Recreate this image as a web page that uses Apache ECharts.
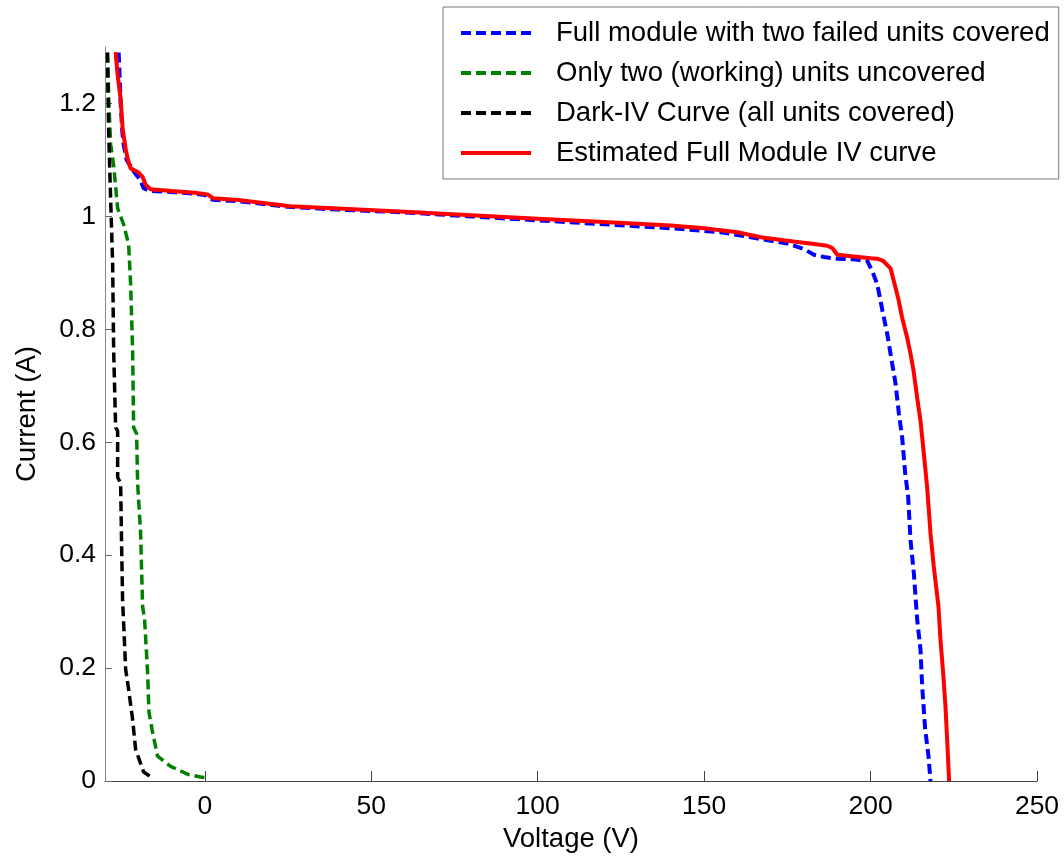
<!DOCTYPE html>
<html>
<head>
<meta charset="utf-8">
<script src="https://cdn.jsdelivr.net/npm/echarts@6/dist/echarts.min.js"></script>
<style>
html,body{margin:0;padding:0;background:#fff;}
#c{width:1064px;height:858px;}
</style>
</head>
<body>
<div id="c"></div>
<script>
// Series names
var seriesNames = [
  'Full module with two failed units covered',
  'Only two (working) units uncovered',
  'Dark-IV Curve (all units covered)',
  'Estimated Full Module IV curve'
];
// Full module with two failed units covered (blue dashed)
var fullV = [-25.9, -25.6, -25.3, -24.8, -24.4, -23.5, -21.4, -19.5, -18.4, -16.5, -10, -3, 0, 1.5, 3, 10, 25, 40, 60, 80, 100, 120, 140, 155, 165, 175, 180, 183, 186, 190, 195, 199, 200.5, 202, 203.6, 205, 206.5, 207.5, 208.5, 209.5, 210.4, 211.3, 212, 213, 214, 215, 215.5, 216.4, 217.4, 218];
var fullI = [1.29, 1.25, 1.2, 1.15, 1.127, 1.1, 1.08, 1.065, 1.05, 1.045, 1.043, 1.04, 1.038, 1.031, 1.029, 1.027, 1.017, 1.012, 1.007, 1.0, 0.993, 0.986, 0.979, 0.972, 0.962, 0.952, 0.942, 0.932, 0.928, 0.925, 0.924, 0.921, 0.903, 0.88, 0.832, 0.792, 0.739, 0.704, 0.651, 0.608, 0.545, 0.503, 0.427, 0.368, 0.286, 0.233, 0.168, 0.092, 0.044, 0.0];
// Only two (working) units uncovered (green dashed)
var twoV = [-29.2, -28.9, -28.3, -27.4, -26.2, -24.4, -22.9, -22.3, -21.7, -21.4, -20.5, -20.2, -19.3, -18.7, -18.1, -17.2, -16.8, -15.7, -14.2, -10.3, -5.2, -1.3, 0];
var twoI = [1.29, 1.21, 1.127, 1.09, 1.014, 0.986, 0.95, 0.88, 0.762, 0.626, 0.615, 0.527, 0.439, 0.309, 0.286, 0.192, 0.122, 0.086, 0.044, 0.026, 0.012, 0.007, 0.006];
// Dark-IV curve (black dashed)
var darkV = [-29.3, -28.9, -28.3, -27.7, -27.4, -26.8, -26.2, -26.2, -25.3, -25, -24.7, -24.4, -23.8, -22.9, -21.7, -20.8, -18.4, -15.4];
var darkI = [1.29, 1.15, 1.03, 0.915, 0.762, 0.626, 0.62, 0.538, 0.527, 0.414, 0.316, 0.28, 0.198, 0.162, 0.109, 0.056, 0.016, 0.004];
// Estimated full module IV curve (red solid)
var estV = [-26.8, -26.2, -25.3, -24.7, -23.8, -23.2, -22.3, -20, -18.7, -17.8, -16.3, -10, -3, 0.8, 2.6, 10, 25.7, 40, 60, 80, 100, 120, 140, 150, 160, 167, 175, 183, 187, 188.5, 190, 195, 200, 202, 203.8, 206, 207, 208.3, 209.5, 211, 212, 212.9, 214, 215, 216, 217, 218, 219, 220.4, 221, 221.8, 222.5, 223, 223.6];
var estI = [1.291, 1.25, 1.208, 1.155, 1.12, 1.102, 1.085, 1.078, 1.07, 1.056, 1.048, 1.045, 1.042, 1.039, 1.032, 1.029, 1.018, 1.014, 1.008, 1.002, 0.996, 0.99, 0.984, 0.979, 0.972, 0.963, 0.957, 0.951, 0.948, 0.944, 0.932, 0.929, 0.926, 0.925, 0.921, 0.908, 0.885, 0.855, 0.82, 0.785, 0.757, 0.727, 0.679, 0.638, 0.58, 0.52, 0.439, 0.379, 0.309, 0.25, 0.192, 0.132, 0.074, 0.0];
// Tick values
var xTicks = [0, 50, 100, 150, 200, 250];
var yTicks = [0, 0.2, 0.4, 0.6, 0.8, 1, 1.2];

function zip(a, b) { return a.map(function (v, i) { return [v, b[i]]; }); }

var FONT = '"Liberation Sans", Arial, Helvetica, sans-serif';
var chart = echarts.init(document.getElementById('c'), null, {renderer: 'canvas'});

function mk(name, v, i, color, dashed, width) {
  return {
    name: name, type: 'line', data: zip(v, i), symbol: 'none', showSymbol: false,
    animation: false, smooth: false,
    lineStyle: {color: color, width: width, type: dashed ? [10, 5] : 'solid'},
    itemStyle: {color: color}
  };
}

chart.setOption({
  backgroundColor: '#fff',
  animation: false,
  grid: {left: 105, right: 27, top: 47, bottom: 76, containLabel: false},
  legend: {
    orient: 'vertical', left: 443, top: 7,
    padding: [12, 9, 12, 16],
    itemGap: 12, itemWidth: 70, itemHeight: 14,
    backgroundColor: '#fff', borderColor: '#777', borderWidth: 1,
    itemStyle: {opacity: 0},
    lineStyle: {width: 4},
    textStyle: {fontFamily: FONT, fontSize: 27.5, color: '#000', lineHeight: 28, padding: [0, 0, 0, 20]},
    data: seriesNames
  },
  xAxis: {
    type: 'value', min: -30, max: 250,
    name: 'Voltage (V)', nameLocation: 'middle', nameGap: 44,
    nameTextStyle: {fontFamily: FONT, fontSize: 27.5, color: '#000'},
    axisLine: {show: true, onZero: false, lineStyle: {color: '#444', width: 1}},
    axisTick: {show: true, inside: true, length: 10, lineStyle: {color: '#444'}, customValues: xTicks},
    axisLabel: {fontFamily: FONT, fontSize: 26.5, color: '#000', margin: 12, customValues: xTicks},
    splitLine: {show: false}
  },
  yAxis: {
    type: 'value', min: 0, max: 1.3,
    name: 'Current (A)', nameLocation: 'middle', nameGap: 64, nameRotate: 90,
    nameTextStyle: {fontFamily: FONT, fontSize: 27.5, color: '#000'},
    axisLine: {show: true, onZero: false, lineStyle: {color: '#888', width: 1}},
    axisTick: {show: true, inside: true, length: 7, lineStyle: {color: '#666'}, customValues: yTicks},
    axisLabel: {fontFamily: FONT, fontSize: 26.5, color: '#000', margin: 9, customValues: yTicks},
    splitLine: {show: false}
  },
  series: [
    mk(seriesNames[0], fullV, fullI, '#0000ff', true, 4),
    mk(seriesNames[1], twoV, twoI, '#008000', true, 3.5),
    mk(seriesNames[2], darkV, darkI, '#000000', true, 3.5),
    mk(seriesNames[3], estV, estI, '#ff0000', false, 4)
  ]
});
</script>
</body>
</html>
